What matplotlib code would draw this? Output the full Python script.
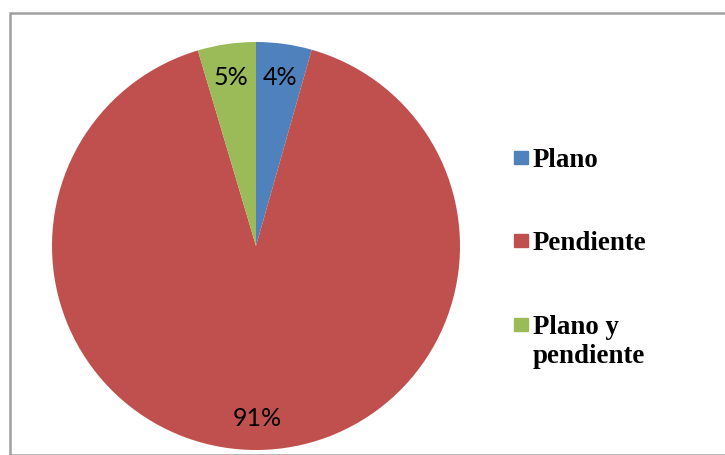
import matplotlib
matplotlib.use("Agg")
import matplotlib.pyplot as plt
from matplotlib.patches import Rectangle

# data
categories = ["Plano", "Pendiente", "Plano y\npendiente"]
values = [4.4, 91.0, 4.6]
colors = ["#4F81BD", "#C0504D", "#9BBB59"]

W, H = 725, 456
fig = plt.figure(figsize=(W / 100, H / 100), dpi=100)

# pie: centre (256, 247) px, radius 204 px
cx, cy, r = 256, 247, 204
ax = fig.add_axes([(cx - r) / W, (H - cy - r) / H, 2 * r / W, 2 * r / H])
wedges, texts, autotexts = ax.pie(values, colors=colors, startangle=90,
                                  counterclock=False, autopct="%.0f%%",
                                  pctdistance=0.84, radius=1,
                                  textprops=dict(family="Lato", fontsize=18, color="black"))
ax.set_xlim(-1, 1)
ax.set_ylim(-1, 1)
ax.set_aspect("equal")
ax.axis("off")

# chart border
fig.patches.append(Rectangle((9.5 / W, 0), 1, 1 - 13.5 / H, transform=fig.transFigure,
                             fill=False, edgecolor="#A0A0A0", lw=1.8, clip_on=False))

# legend drawn by hand (first-line baselines in px)
baselines = [167, 250, 334]
for c, lab, b in zip(colors, categories, baselines):
    fig.patches.append(Rectangle((514 / W, 1 - (b - 2) / H), 14 / W, 13 / H,
                                 transform=fig.transFigure, color=c))
    lines = lab.split("\n")
    for i, line in enumerate(lines):
        fig.text(533 / W, 1 - (b + 29 * i) / H, line, ha="left", va="baseline",
                 family="Liberation Serif", weight="bold", fontsize=19.4)

fig.savefig("out.png", dpi=100)
